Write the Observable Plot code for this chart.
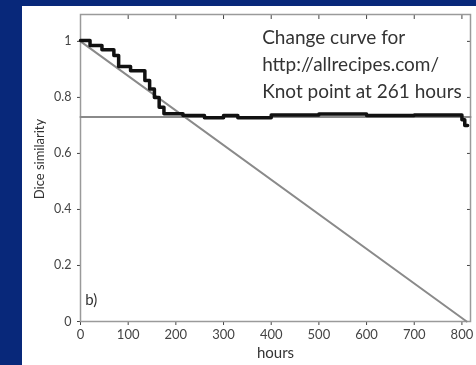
<!DOCTYPE html>
<html>
<head>
<meta charset="utf-8">
<script src="https://cdn.jsdelivr.net/npm/d3@7"></script>
<script src="https://cdn.jsdelivr.net/npm/@observablehq/plot@0.6"></script>
<style>
  html, body { margin: 0; padding: 0; width: 476px; height: 365px; overflow: hidden; background: #08287a; }
  #panel { position: absolute; left: 22px; top: 6px; width: 454px; height: 359px; background: #ffffff; }
  #panel svg { display: block; filter: blur(0.4px); }
</style>
</head>
<body>
<div id="panel"></div>
<script>
// Step change curve (Dice similarity vs hours)
const stepHours = [0, 20, 45, 70, 80, 105, 135, 145, 155, 165, 175, 215, 260, 300, 330, 400, 500, 600, 700, 800, 806, 812];
const stepDice  = [1.003, 0.985, 0.97, 0.95, 0.91, 0.895, 0.86, 0.83, 0.80, 0.765, 0.742, 0.735, 0.727, 0.735, 0.727, 0.737, 0.741, 0.735, 0.737, 0.72, 0.70, 0.70];
// Fitted lines
const diagHours = [0, 810];
const diagDice  = [1.0, 0.0];
const flatHours = [0, 818];
const flatDice  = [0.73, 0.73];
// Ticks
const xTicks = [0, 100, 200, 300, 400, 500, 600, 700, 800];
const yTicks = [0, 0.2, 0.4, 0.6, 0.8, 1];
// Annotation
const noteLines = ["Change curve for", "http://allrecipes.com/", "Knot point at 261 hours"];
const noteY = [1.012, 0.915, 0.818];
const panelLabel = "b)";

const stepData = stepHours.map((h, i) => ({h, v: stepDice[i]}));
const diagData = diagHours.map((h, i) => ({h, v: diagDice[i]}));
const flatData = flatHours.map((h, i) => ({h, v: flatDice[i]}));
const noteData = noteLines.map((t, i) => ({t, v: noteY[i]}));

const font = "Lato, 'Open Sans', sans-serif";

const chart = Plot.plot({
  width: 454,
  height: 359,
  marginLeft: 58,
  marginRight: 6,
  marginTop: 8,
  marginBottom: 44,
  style: { fontFamily: font, fontSize: "13px", color: "#444", background: "transparent" },
  x: { domain: [0, 818] },
  y: { domain: [0, 1.096] },
  marks: [
    Plot.axisX({ ticks: xTicks, tickSize: 4, tickPadding: 4, tickFormat: d => String(d), label: null, fontSize: 13 }),
    Plot.text(["hours"], { frameAnchor: "bottom", textAnchor: "middle", dy: 36, text: d => d, fontSize: 15, fill: "#333" }),
    Plot.axisX({ anchor: "top", ticks: xTicks, tickSize: -4, tickFormat: () => "", label: null }),
    Plot.axisY({ ticks: yTicks, tickSize: 3, tickPadding: 6, tickFormat: d => String(d), label: null, fontSize: 12.5 }),
    Plot.text(["Dice similarity"], { frameAnchor: "left", textAnchor: "middle", dx: -41, dy: -9, rotate: -90, text: d => d, fontSize: 13, fill: "#333" }),
    Plot.axisY({ anchor: "right", ticks: yTicks, tickSize: -4, tickFormat: () => "", label: null }),
    Plot.frame({ stroke: "#9a9a9a", strokeWidth: 1.5 }),
    Plot.line(flatData, { x: "h", y: "v", stroke: "#8a8a8a", strokeWidth: 2 }),
    Plot.line(diagData, { x: "h", y: "v", stroke: "#8a8a8a", strokeWidth: 2 }),
    Plot.line(stepData, { x: "h", y: "v", curve: "step-after", stroke: "#111", strokeWidth: 3.5 }),
    Plot.text(noteData, { x: 381, y: "v", text: "t", textAnchor: "start", fontSize: 19, fill: "#333", fontFamily: font }),
    Plot.text([panelLabel], { x: 10, y: 0.075, text: d => d, textAnchor: "start", fontSize: 15, fill: "#333", fontFamily: font })
  ]
});
document.getElementById("panel").appendChild(chart);
</script>
</body>
</html>
